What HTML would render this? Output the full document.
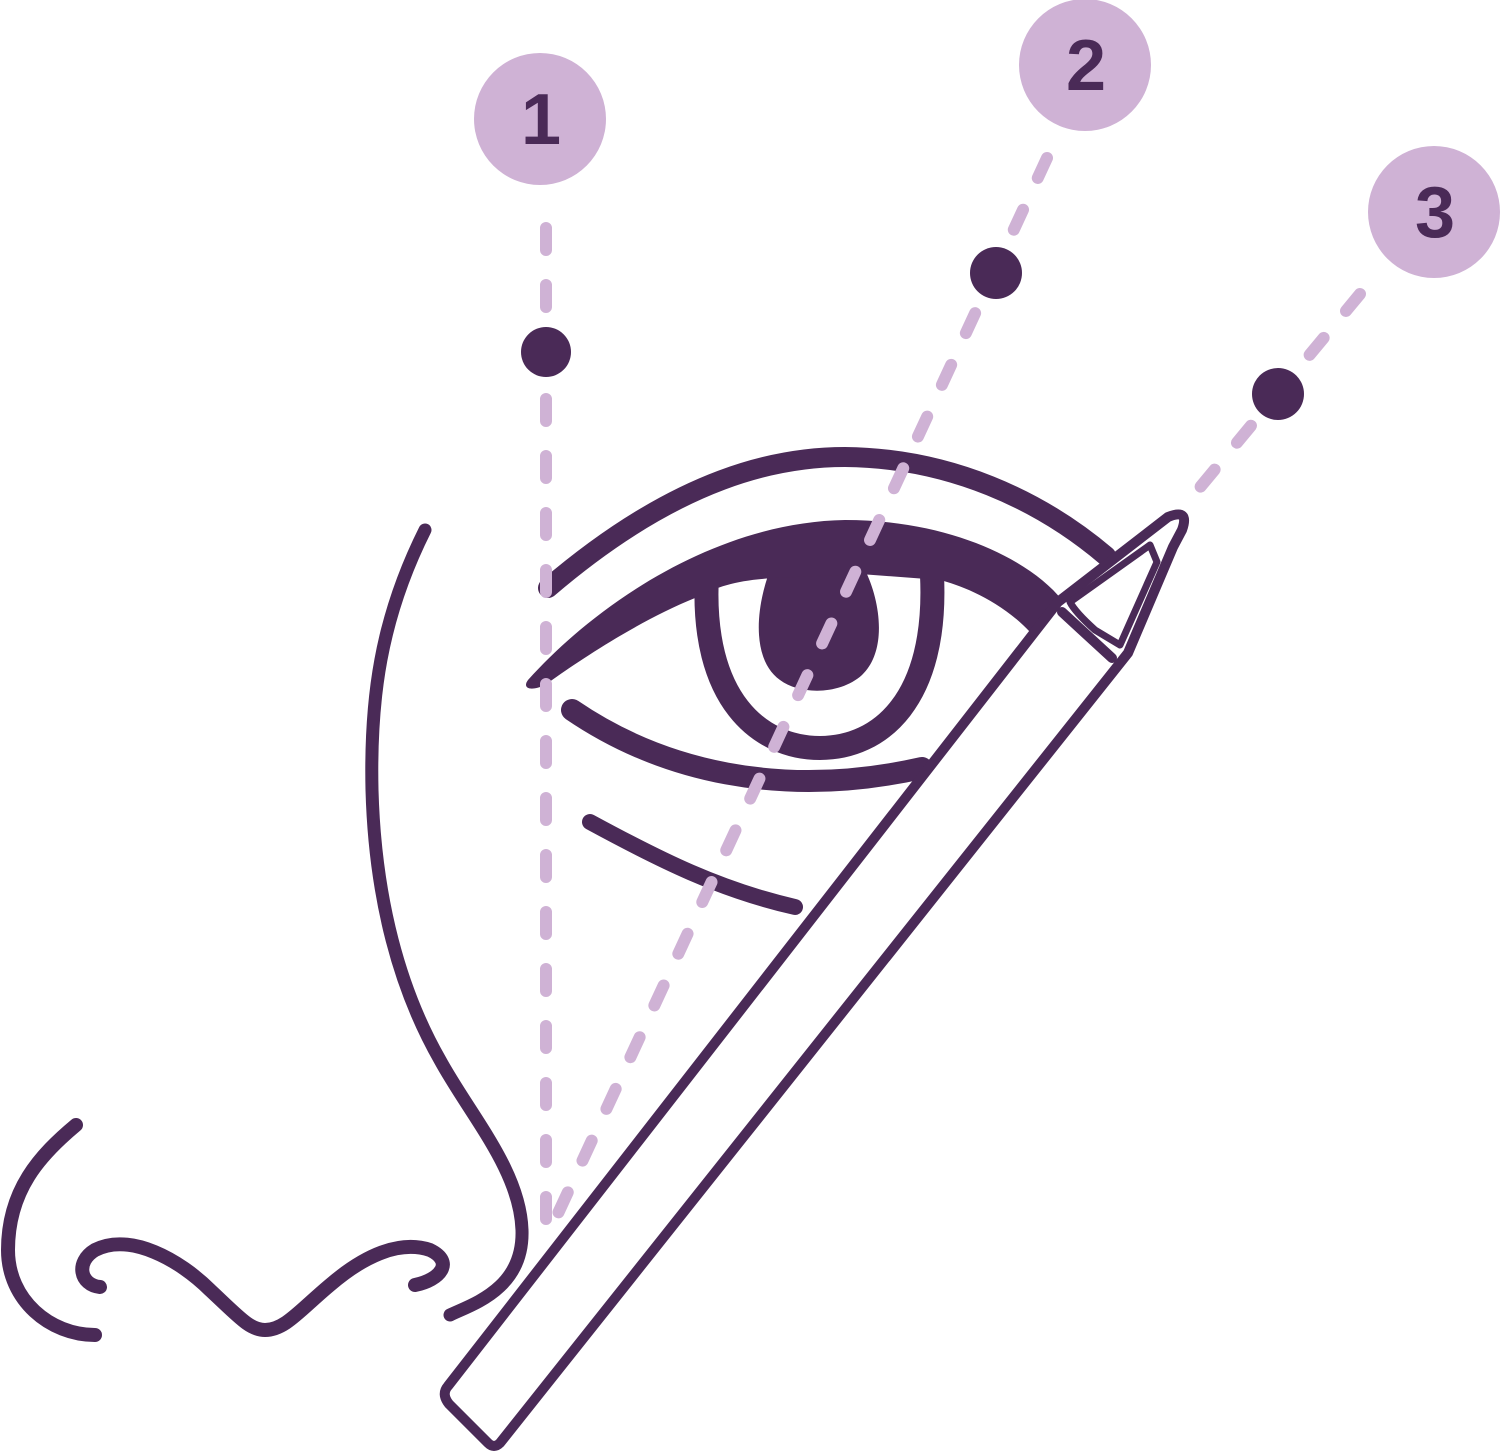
<!DOCTYPE html>
<html><head><style>html,body{margin:0;padding:0;background:#fff}svg{display:block}</style></head>
<body>
<svg width="1500" height="1451" viewBox="0 0 1500 1451" xmlns="http://www.w3.org/2000/svg">
<g fill="none" stroke="#4a2a57" stroke-linecap="round" stroke-linejoin="round">
  <path d="M425,530 C380,620 370,700 372,790 C375,900 400,990 440,1060 C470,1115 520,1170 522,1230 C524,1290 470,1305 450,1315" stroke-width="13"/>
  <path d="M76,1125 C40,1155 8,1190 8,1250 C8,1300 50,1335 95,1335" stroke-width="14"/>
  <path d="M100,1287 C80,1285 75,1262 95,1250 C130,1232 180,1260 210,1290 C240,1318 250,1330 265,1330 C285,1330 300,1310 330,1285 C365,1255 400,1240 430,1250 C455,1262 440,1280 415,1285" stroke-width="14"/>
  <path d="M548,588 C680,475 780,457 845,457 C950,458 1040,500 1106,556" stroke-width="20"/>
  <!-- iris ring -->
  <path d="M707,575 C700,700 760,748 820,748 C880,748 938,700 932,575" stroke-width="24"/>
  <path d="M572,710 C660,770 780,800 922,768" stroke-width="22"/>
  <path d="M590,822 C660,860 720,890 795,907" stroke-width="16"/>
</g>
<!-- pupil -->
<path d="M770,570 C755,610 752,660 780,680 C800,695 840,695 862,675 C888,650 880,600 865,570 Z" fill="#4a2a57"/>
<!-- upper lid -->
<path d="M528,680 C600,600 720,522 845,520 C950,520 1030,560 1062,600 L1030,632 C1000,600 960,585 940,580 L860,574 L775,578 C740,580 720,585 695,598 C640,620 580,660 545,685 C530,692 522,688 528,680 Z" fill="#4a2a57"/>
<g stroke="#cfb2d5" stroke-width="12" stroke-linecap="round" fill="none" stroke-dasharray="22 35">
  <line x1="546" y1="228" x2="546" y2="1235"/>
  <line x1="1047" y1="158" x2="548" y2="1235"/>
  <line x1="1360" y1="294" x2="1192" y2="497"/>
</g>
<g stroke="#4a2a57" stroke-width="10" stroke-linejoin="round" stroke-linecap="round">
  <path d="M1058,602 L1168,517 Q1190,508 1182,530 L1173,547 L1128,653 L500,1443 Q494,1449 488,1443 L449,1404 Q441,1394 448,1386 Z" fill="#fff"/>
  <path d="M1062,612 L1112,658" fill="none"/>
  <path d="M1070,602 L1150,545 L1157,562 L1120,645 L1095,630 Q1075,612 1070,602 Z" fill="#fff" stroke-width="7"/>
</g>
<g fill="#4a2a57">
  <circle cx="546" cy="352" r="25"/>
  <circle cx="996" cy="273" r="26"/>
  <circle cx="1278" cy="394" r="26"/>
</g>
<g fill="#cfb2d5">
  <circle cx="540" cy="119" r="66"/>
  <circle cx="1085" cy="65" r="66"/>
  <circle cx="1434" cy="212" r="66"/>
</g>
<g fill="#4a2a57" font-family="'Liberation Sans', sans-serif" font-weight="bold" font-size="72" text-anchor="middle">
  <text x="541" y="144">1</text>
  <text x="1086" y="90">2</text>
  <text x="1435" y="237">3</text>
</g>
</svg>
</body></html>
